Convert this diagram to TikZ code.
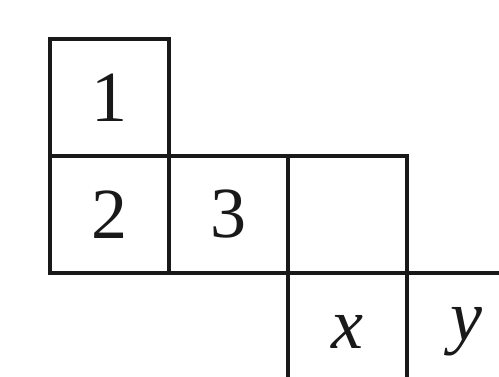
\documentclass[tikz,border=0pt]{standalone}
\usepackage{fontspec}
\setmainfont{Liberation Serif}
\begin{document}
\begin{tikzpicture}[x=1pt,y=-1pt,
  cell/.style={draw=black!90, line width=3.8pt, minimum width=119pt, minimum height=117pt, inner sep=0pt, anchor=center, font=\fontsize{72}{76}\selectfont, text=black!90},
  ]
\useasboundingbox (0,0) rectangle (499,376);
\clip (0,0) rectangle (499,376);
\node[cell] (c1) at (109.5,97.5) {1};
\node[cell] (c2) at (109.5,214.5) {2};
\node[cell] (c3) at (228.5,214.5) {3};
\node[cell] (c4) at (347.5,214.5) {};
\node[cell] (cx) at (347.5,331.5) {\textit{x}};
\node[cell] (cy) at (466.5,331.5) {\textit{y}};
\end{tikzpicture}
\end{document}
